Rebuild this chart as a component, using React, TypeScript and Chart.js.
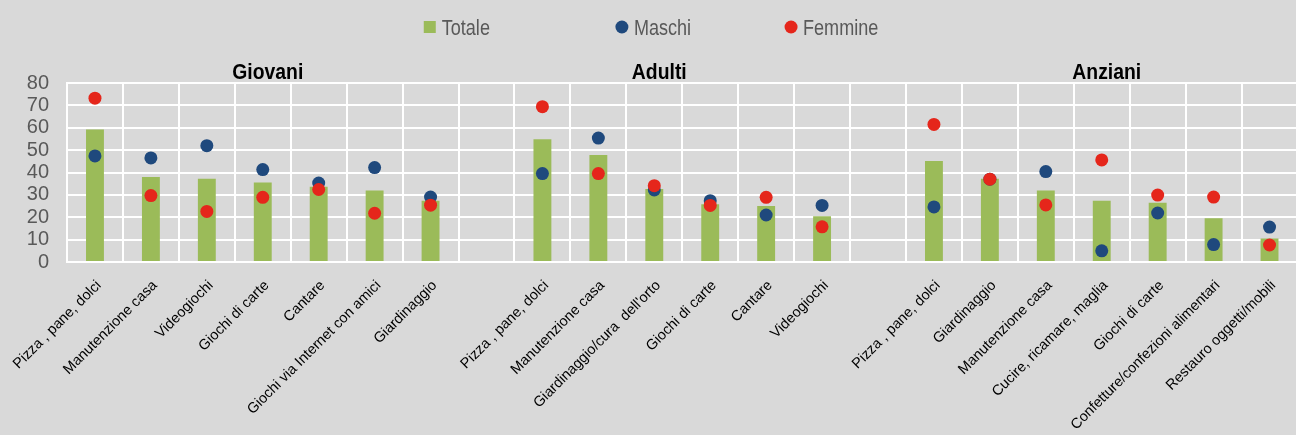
import React, { useEffect, useRef } from "react";
import { Chart, registerables } from "chart.js";

Chart.register(...registerables);

const categories = [
  "Pizza , pane, dolci",
  "Manutenzione casa",
  "Videogiochi",
  "Giochi di carte",
  "Cantare",
  "Giochi via Internet con amici",
  "Giardinaggio",
  "",
  "Pizza , pane, dolci",
  "Manutenzione casa",
  "Giardinaggio/cura  dell'orto",
  "Giochi di carte",
  "Cantare",
  "Videogiochi",
  "",
  "Pizza , pane, dolci",
  "Giardinaggio",
  "Manutenzione casa",
  "Cucire, ricamare, maglia",
  "Giochi di carte",
  "Confetture/confezioni alimentari",
  "Restauro oggetti/mobili",
];

const totale = [59.2, 38, 37.2, 35.5, 33.6, 31.9, 27.4, null, 54.9, 47.8, 32.6, 25.8, 25, 20.4, null, 45.1, 37.2, 31.9, 27.4, 26.5, 19.5, 10.5];
const maschi = [47.4, 46.5, 52, 41.3, 35.3, 42.2, 29, null, 39.5, 55.4, 32.2, 27.4, 21, 25.3, null, 24.6, 37, 40.4, 5, 21.9, 7.8, 15.6];
const femmine = [73.2, 29.7, 22.6, 28.9, 32.4, 21.8, 25.4, null, 69.4, 39.5, 34.1, 25.3, 28.9, 15.7, null, 61.5, 37, 25.5, 45.6, 29.9, 29, 7.6];

const groupTitles = ["Giovani", "Adulti", "Anziani"];
const groupTitleIndex = [3, 10, 18];

const yMin = 0;
const yMax = 80;
const yStep = 10;

const FONT = "'Liberation Sans', Arial, sans-serif";
const BG = "#d9d9d9";
const GREEN = "#9bbb59";
const BLUE = "#1f497d";
const RED = "#e5261b";

// draws text horizontally condensed (the reference uses a narrow face)
function narrowText(ctx: any, text: string, x: number, y: number, align: string, sx: number) {
  ctx.save();
  ctx.translate(x, y);
  ctx.scale(sx, 1);
  ctx.textAlign = align;
  ctx.fillText(text, 0, 0);
  ctx.restore();
}

const bgPlugin = {
  id: "bgFill",
  beforeDraw(chart: any) {
    const ctx = chart.ctx;
    ctx.save();
    ctx.fillStyle = BG;
    ctx.fillRect(0, 0, chart.width, chart.height);
    ctx.restore();
  },
};

const titlesPlugin = {
  id: "groupTitles",
  afterDraw(chart: any) {
    const ctx = chart.ctx;
    const xs = chart.scales.x;
    ctx.save();
    ctx.font = `bold 22px ${FONT}`;
    ctx.fillStyle = "#000000";
    ctx.textBaseline = "alphabetic";
    groupTitles.forEach((t, i) => {
      narrowText(ctx, t, xs.getPixelForValue(groupTitleIndex[i]) + 5, 79, "center", 0.88);
    });
    ctx.restore();
  },
};

const legendPlugin = {
  id: "customLegend",
  afterDraw(chart: any) {
    const ctx = chart.ctx;
    ctx.save();
    ctx.font = `22px ${FONT}`;
    const sx = 0.82;
    const items = chart.data.datasets.map((ds: any) => ({
      label: ds.label,
      color: ds.type === "bar" ? ds.backgroundColor : ds.pointBackgroundColor,
      kind: ds.type === "bar" ? "rect" : "circle",
    }));
    const marker = 12;
    const gapText = 6;
    const gaps = [126, 94];
    const widths = items.map((it: any) => marker + gapText + ctx.measureText(it.label).width * sx);
    const total = widths.reduce((a: number, b: number) => a + b, 0) + gaps.reduce((a, b) => a + b, 0);
    let x = 651 - total / 2;
    const cy = 27;
    items.forEach((it: any, i: number) => {
      ctx.fillStyle = it.color;
      if (it.kind === "rect") {
        ctx.fillRect(x, cy - 6, 12, 12);
      } else {
        ctx.beginPath();
        ctx.arc(x + 6, cy, 6.5, 0, Math.PI * 2);
        ctx.fill();
      }
      ctx.fillStyle = "#595959";
      ctx.textBaseline = "alphabetic";
      narrowText(ctx, it.label, x + marker + gapText, 35, "left", sx);
      x += widths[i] + (gaps[i] || 0);
    });
    ctx.restore();
  },
};

export default function App() {
  const canvasRef = useRef<HTMLCanvasElement | null>(null);

  useEffect(() => {
    if (!canvasRef.current) return;
    const chart = new Chart(canvasRef.current, {
      type: "bar",
      data: {
        labels: categories,
        datasets: [
          {
            type: "bar",
            label: "Totale",
            data: totale,
            backgroundColor: GREEN,
            borderWidth: 0,
            barPercentage: 0.32,
            categoryPercentage: 1,
            order: 3,
          } as any,
          {
            type: "line",
            label: "Maschi",
            data: maschi,
            showLine: false,
            pointRadius: 6.5,
            pointBorderWidth: 0,
            pointBackgroundColor: BLUE,
            pointBorderColor: BLUE,
            backgroundColor: BLUE,
            borderColor: BLUE,
            order: 2,
          } as any,
          {
            type: "line",
            label: "Femmine",
            data: femmine,
            showLine: false,
            pointRadius: 6.5,
            pointBorderWidth: 0,
            pointBackgroundColor: RED,
            pointBorderColor: RED,
            backgroundColor: RED,
            borderColor: RED,
            order: 1,
          } as any,
        ],
      },
      options: {
        responsive: false,
        animation: false,
        devicePixelRatio: 1,
        layout: { padding: { top: 83, left: 0, right: 0, bottom: 0 } },
        plugins: {
          legend: { display: false },
          tooltip: { enabled: false },
          title: { display: false },
        },
        scales: {
          x: {
            offset: true,
            grid: { color: "#ffffff", lineWidth: 2, drawTicks: false, offset: true },
            border: { color: "#ffffff", width: 2 },
            ticks: {
              autoSkip: false,
              maxRotation: 45,
              minRotation: 45,
              color: "#000000",
              padding: 15,
              labelOffset: 4,
              font: { family: FONT, size: 14.5 },
            },
            afterFit: (s: any) => {
              s.height = 173;
              s.paddingLeft = 0;
              s.paddingRight = 0;
            },
          },
          y: {
            min: yMin,
            max: yMax,
            grid: { color: "#ffffff", lineWidth: 2, drawTicks: false },
            border: { color: "#ffffff", width: 2 },
            ticks: {
              stepSize: yStep,
              autoSkip: false,
              color: "#595959",
              padding: 18,
              font: { family: FONT, size: 20 },
            },
            afterFit: (s: any) => {
              s.width = 67;
            },
          },
        },
      },
      plugins: [bgPlugin, titlesPlugin, legendPlugin],
    });
    return () => chart.destroy();
  }, []);

  return (
    <div
      style={{
        position: "fixed",
        left: 0,
        top: 0,
        width: 1296,
        height: 435,
        overflow: "hidden",
        background: BG,
      }}
    >
      <canvas ref={canvasRef} width={1304} height={435} style={{ display: "block" }} />
    </div>
  );
}
